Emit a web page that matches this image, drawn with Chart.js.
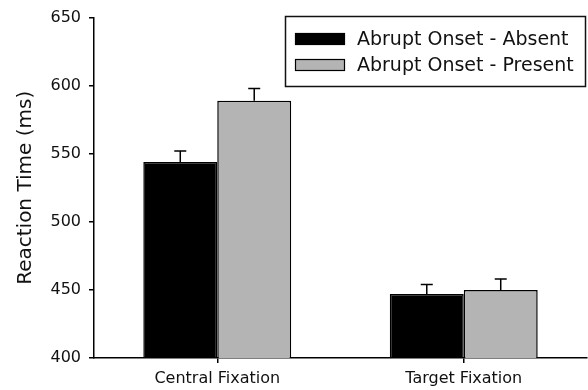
<!DOCTYPE html>
<html>
<head>
<meta charset="utf-8">
<script src="https://cdn.jsdelivr.net/npm/chart.js@4/dist/chart.umd.min.js"></script>
<style>
  html,body{margin:0;padding:0;background:#fff;}
  #wrap{width:588px;height:390px;}
</style>
</head>
<body>
<div id="wrap"><canvas id="c" width="588" height="390"></canvas></div>
<script>
const categories = ["Central Fixation", "Target Fixation"];
const seriesNames = ["Abrupt Onset - Absent", "Abrupt Onset - Present"];
const absentRT = [544, 447];
const presentRT = [589, 450];
const absentErr = [8, 7];
const presentErr = [9, 8];
const yTicks = [400, 450, 500, 550, 600, 650];

const FONT = "'DejaVu Sans', sans-serif";

// error bars, upward only, with a small cap
const errorBars = {
  id: 'errorBars',
  afterDatasetsDraw(chart) {
    const ctx = chart.ctx;
    const y = chart.scales.y;
    ctx.save();
    ctx.strokeStyle = '#000';
    ctx.lineWidth = 1.5;
    chart.data.datasets.forEach((ds, i) => {
      const meta = chart.getDatasetMeta(i);
      meta.data.forEach((bar, j) => {
        const top = y.getPixelForValue(ds.data[j] + ds.err[j]);
        ctx.beginPath();
        ctx.moveTo(bar.x, bar.y);
        ctx.lineTo(bar.x, top);
        ctx.moveTo(bar.x - 6, top);
        ctx.lineTo(bar.x + 6, top);
        ctx.stroke();
      });
    });
    ctx.restore();
  }
};

// boxed legend in the top right corner
const boxLegend = {
  id: 'boxLegend',
  afterDraw(chart) {
    const ctx = chart.ctx;
    ctx.save();
    ctx.strokeStyle = '#111';
    ctx.lineWidth = 1.5;
    ctx.strokeRect(285.5, 16.5, 300, 70);
    ctx.font = '19px ' + FONT;
    ctx.textBaseline = 'middle';
    ctx.textAlign = 'left';
    chart.data.datasets.forEach((ds, i) => {
      const cy = 39 + i * 26;
      ctx.fillStyle = ds.backgroundColor;
      ctx.fillRect(295, cy - 6, 50, 12);
      ctx.lineWidth = 1.2;
      ctx.strokeStyle = '#000';
      ctx.strokeRect(295.5, cy - 5.5, 49, 11);
      ctx.fillStyle = '#111';
      ctx.fillText(ds.label, 357, cy + 1);
    });
    ctx.restore();
  }
};

new Chart(document.getElementById('c'), {
  type: 'bar',
  data: {
    labels: categories,
    datasets: [
      {label: seriesNames[0], data: absentRT, err: absentErr,
       backgroundColor: '#000000', borderColor: '#000', borderWidth: 1.5},
      {label: seriesNames[1], data: presentRT, err: presentErr,
       backgroundColor: '#b4b4b4', borderColor: '#000', borderWidth: 1.5}
    ]
  },
  options: {
    responsive: false,
    animation: false,
    layout: {padding: {top: 16, right: 1, left: 14, bottom: 0}},
    categoryPercentage: 0.6,
    barPercentage: 1.0,
    plugins: {legend: {display: false}, tooltip: {enabled: false}},
    scales: {
      x: {
        offset: true,
        grid: {offset: false, drawOnChartArea: false, drawTicks: true, tickLength: 5, tickColor: '#000', lineWidth: 1.5},
        border: {color: '#000', width: 1.5},
        ticks: {color: '#111', font: {family: FONT, size: 16}, padding: 6},
        afterFit(s) { s.height = 32; }
      },
      y: {
        min: 400, max: 650,
        afterBuildTicks(s) { s.ticks = yTicks.map(v => ({value: v})); },
        grid: {drawOnChartArea: false, drawTicks: true, tickLength: 5, tickColor: '#000', lineWidth: 1.5},
        border: {color: '#000', width: 1.5},
        ticks: {color: '#111', font: {family: FONT, size: 16}, padding: 8},
        title: {display: true, text: 'Reaction Time (ms)', color: '#111', font: {family: FONT, size: 20}, padding: {top: 0, bottom: 6}},
        afterFit(s) { s.width = 80; }
      }
    }
  },
  plugins: [errorBars, boxLegend]
});
</script>
</body>
</html>
